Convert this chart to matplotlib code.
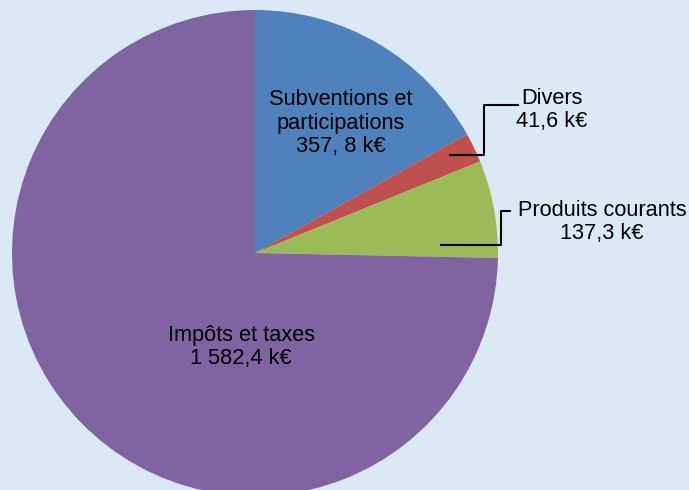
import matplotlib.pyplot as plt

plt.rcParams['font.family'] = ['Liberation Sans', 'DejaVu Sans']

labels = ["Subventions et\nparticipations\n357, 8 k€", "Divers\n41,6 k€",
          "Produits courants\n137,3 k€", "Impôts et taxes\n1 582,4 k€"]
values = [357.8, 41.6, 137.3, 1582.4]
colors = ["#4f81bd", "#c0504d", "#9bbb59", "#8064a2"]

W, H = 689, 490
bg = "#dbe9f6"

fig = plt.figure(figsize=(W / 100, H / 100), dpi=100, facecolor=bg)
ax = fig.add_axes([0, 0, 1, 1])
ax.set_facecolor(bg)

# pixel coords, y measured from the top
def Y(y):
    return H - y

ax.pie(values, colors=colors, startangle=90, counterclock=False,
       center=(255, Y(253)), radius=243, frame=True,
       wedgeprops=dict(linewidth=0))

ax.set_xlim(0, W)
ax.set_ylim(0, H)
ax.set_aspect('auto')
ax.axis('off')

fs = 15.7
ls = 1.13
ax.text(341, Y(123), labels[0], ha='center', va='center', fontsize=fs, linespacing=ls)
ax.text(552, Y(110), labels[1], ha='center', va='center', fontsize=fs, linespacing=ls)
ax.text(602, Y(222), labels[2], ha='center', va='center', fontsize=fs, linespacing=ls)
ax.text(241, Y(347), labels[3], ha='center', va='center', fontsize=fs, linespacing=ls)

# leader lines
ax.plot([450, 484, 484, 518], [Y(155), Y(155), Y(105), Y(105)], color='black', lw=1.5)
ax.plot([441, 501, 501, 510], [Y(245), Y(245), Y(211), Y(211)], color='black', lw=1.5)

fig.savefig("out.png", dpi=100, facecolor=bg)
